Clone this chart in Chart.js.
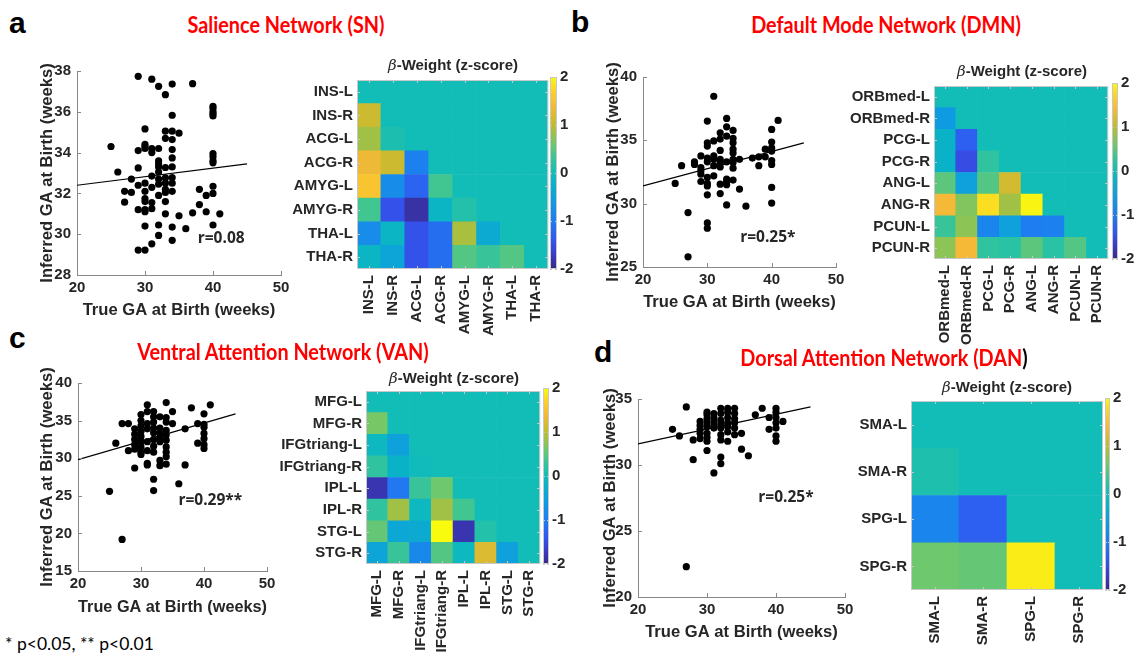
<!DOCTYPE html>
<html>
<head>
<meta charset="utf-8">
<script src="https://cdn.jsdelivr.net/npm/chart.js@4.4.0/dist/chart.umd.min.js"></script>
<style>
  body { margin: 0; background: #fff; }
  #stage { position: relative; width: 1136px; height: 653px; overflow: hidden; }
  canvas { position: absolute; }
  .txt { position: absolute; z-index: 5; white-space: nowrap; }
  .letter { font: bold 30px 'Liberation Sans', Arial, sans-serif; color: #000; line-height: 30px; }
  .title { font: bold 22px Lato, sans-serif; color: #ff0000; transform: translate(-50%, -50%) scaleX(0.9); }
  .htitle { font: bold 15px 'Liberation Sans', Arial, sans-serif; color: #262626; transform: translate(-50%, -50%); }
  .htitle i { font-family: 'DejaVu Serif', serif; font-weight: normal; font-style: italic; }
  .note { font: 17.5px Lato, sans-serif; color: #000; transform: translateY(-50%); }
</style>
</head>
<body>
<div id="stage">
  <div class="txt letter" style="left:9px;top:8px">a</div>
  <div class="txt letter" style="left:571px;top:7px">b</div>
  <div class="txt letter" style="left:9px;top:323px">c</div>
  <div class="txt letter" style="left:594px;top:337px">d</div>
  <div class="txt title" style="left:286px;top:24px">Salience Network (SN)</div>
  <div class="txt title" style="left:886px;top:24px">Default Mode Network (DMN)</div>
  <div class="txt title" style="left:283px;top:351px">Ventral Attention Network (VAN)</div>
  <div class="txt title" style="left:884px;top:357px">Dorsal Attention Network (DAN<span style="color:#000">)</span></div>
  <div class="txt htitle" style="left:453px;top:65px"><i>β</i>-Weight (z-score)</div>
  <div class="txt htitle" style="left:1022px;top:71px"><i>β</i>-Weight (z-score)</div>
  <div class="txt htitle" style="left:454px;top:378px"><i>β</i>-Weight (z-score)</div>
  <div class="txt htitle" style="left:1007px;top:387px"><i>β</i>-Weight (z-score)</div>
  <div class="txt note" style="left:5px;top:643px">* p&lt;0.05, ** p&lt;0.01</div>
</div>
<script>
// ---- scatter data (true GA vs inferred GA, weeks) ----
const gaTicks = [20, 30, 40, 50];
const fitX = [20, 45];

const snTrueGA = [29,31,32,34,37,33,40,40,40,40, 40,34,30,33,34,35,33,34,25,30, 30,30,29,31,31,32,34,34,40,40,
  40,40,32,32,32,29,33,34,26,32, 31,33,34,28,32,32,30,33,34,29, 31,40,33,33,34,27,28,30,38,32,
  39,40,30,27,30,31,33,38,29,30, 30,31,33,37,39,41,35,32,34,30, 36,40,32,31,34,29,30];
const snInferredGA = [37.74,37.6,37.25,37.36,37.38,36.84,36.27,36.16,36.0,35.9, 35.8,35.83,35.16,35.05,35.05,34.95,34.7,34.64,34.3,34.4,
  34.3,34.2,34.1,34.2,34.0,34.2,34.15,33.74,33.95,33.8, 33.6,33.5,33.6,33.45,33.3,33.25,33.27,33.3,33.05,33.05,
  32.85,32.76,32.78,32.7,32.7,32.45,32.5,32.5,32.5,32.4, 32.3,32.35,32.2,32.05,32.1,32.1,32.05,32.1,32.2,31.9,
  31.9,32.0,31.75,31.57,31.6,31.55,31.6,31.45,31.2,31.2, 31.1,31.25,31.0,31.05,31.1,31.0,30.9,30.45,30.35,30.4,
  30.27,30.45,29.94,29.53,29.7,29.22,29.22];
const snFit = [32.4, 33.45];
const snTicks = [28, 30, 32, 34, 36, 38];

const dmnTrueGA = [31,30,33,41,33,40,32,33,34,31, 30,30,32,34,34,40,34,34,32,40, 40,39,31,31,30,30,29,32,32,33,
  34,34,37,38,39,35,28,28,26,40, 40,38,31,29,29,29,32,34,31,30, 33,34,33,29,25,30,30,32,33,35,
  40,32,30,40,33,36,27,30,30,27];
const dmnInferredGA = [38.48,36.52,36.73,36.57,36.07,35.86,35.6,35.34,35.78,34.95, 34.8,34.55,35.1,35.15,34.8,34.87,34.3,34.0,34.2,34.4,
  34.15,34.3,33.77,33.5,33.6,33.3,33.77,33.5,33.25,33.3, 33.5,33.25,33.6,33.7,33.7,33.5,33.3,33.1,33.0,33.4,
  33.1,33.0,33.0,32.85,32.6,32.33,32.9,32.8,32.2,32.07, 31.94,31.86,31.7,31.75,31.6,31.6,31.4,31.54,31.5,31.15,
  31.28,30.8,30.7,30.05,29.9,29.8,29.3,28.48,28.06,25.8];
const dmnFit = [31.4, 34.8];
const dmnTicks = [25, 30, 35, 40];

const vanTrueGA = [25,26,27,27,28,28, 29,29,29,29,29,29, 30,30,30,30,30,30,30,30,30, 31,31,31,31,31,31,31,31,
  32,32,32,32,32,32,32,32,32,32, 33,33,33,33,33,33,33, 34,34,34,34,34,34,34,34,34,34,
  35,35,36,37,37,38,39,39, 40,40,40,40,40,40,40, 41];
const vanInferredGA = [25.6,32.0,34.6,19.2,34.6,31.0, 33.9,33.2,32.5,31.8,31.2,28.7, 35.8,35.0,34.3,33.6,32.9,32.2,31.5,30.8,30.5,
  37.1,36.2,34.6,33.9,32.2,31.0,29.3,29.1, 36.2,35.5,34.8,34.0,33.4,32.5,31.6,30.8,27.2,25.7,
  35.5,34.0,33.3,32.7,32.2,29.7,29.0, 37.4,35.4,34.8,33.7,33.1,32.4,31.5,30.8,30.2,29.2,
  36.2,34.6,26.6,33.9,29.1,36.7,34.6,32.0, 35.9,34.5,34.1,33.3,32.6,31.8,31.3, 37.1];
const vanFit = [29.8, 35.9];
const vanTicks = [15, 20, 25, 30, 35, 40];

const danTrueGA = [25,26,27,27,28,28, 29,29,29,29,29, 30,30,30,30,30,30,30,30,30, 31,31,31,31,31,31,
  32,32,32,32,32,32,32,32,32, 33,33,33,33,33,33,33, 34,34,34,34,34,34, 35,35,36,37,38,39,39,
  40,40,40,40,40,40,40, 41];
const danInferredGA = [32.7,32.2,34.4,22.3,31.9,30.4, 33.3,33.0,32.7,32.4,32.0, 34.0,33.8,33.5,33.2,32.9,32.4,32.1,31.8,31.1,
  33.9,33.6,33.3,33.0,32.8,29.4, 34.3,33.9,33.4,33.1,32.8,32.3,31.9,30.6,30.1, 34.3,34.0,33.6,33.2,32.9,32.5,31.8,
  34.3,33.9,33.5,33.2,32.8,32.3, 32.4,31.2,30.7,33.8,34.3,33.6,32.7, 34.3,34.0,33.6,33.2,32.8,32.2,31.8, 33.3];
const danFit = [31.6, 34.4];
const danTicks = [20, 25, 30, 35];

// ---- beta weight matrices (lower triangle, row by row; the rest is 0) ----
const zTicks = [-2, -1, 0, 1, 2];

const snRegions = ['INS-L','INS-R','ACG-L','ACG-R','AMYG-L','AMYG-R','THA-L','THA-R'];
const snWeights = [
  [],
  [1.1],
  [0.85, 0.08],
  [1.35, 1.1, -0.95],
  [1.55, -0.8, -1.25, 0.35],
  [0.35, -1.45, -1.85, -0.15, 0.15],
  [-0.8, -0.15, -1.45, -1.15, 0.9, -0.35],
  [-0.15, -0.45, -1.45, -1.15, 0.45, 0.3, 0.45]
];

const dmnRegions = ['ORBmed-L','ORBmed-R','PCG-L','PCG-R','ANG-L','ANG-R','PCUN-L','PCUN-R'];
const dmnWeights = [
  [],
  [-0.6],
  [-0.2, -1.3],
  [-0.2, -1.5, 0.25],
  [0.5, -0.5, 0.45, 1.15],
  [1.4, 0.7, 1.8, 0.85, 1.95],
  [0.3, 0.75, -0.9, -0.5, -1.0, -0.95],
  [0.75, 1.4, 0.25, 0.2, 0.5, 0.2, 0.45]
];

const vanRegions = ['MFG-L','MFG-R','IFGtriang-L','IFGtriang-R','IPL-L','IPL-R','STG-L','STG-R'];
const vanWeights = [
  [],
  [0.65],
  [-0.1, -0.5],
  [0.25, -0.2, -0.05],
  [-1.8, -1.05, 0.3, 0.6],
  [0.25, 0.85, -0.1, 0.85, 0.35],
  [0.55, -0.4, -0.35, 2.0, -1.8, 0.15],
  [-0.45, 0.3, -0.85, 0.45, -0.1, 1.2, -0.5]
];

const danRegions = ['SMA-L','SMA-R','SPG-L','SPG-R'];
const danWeights = [
  [],
  [0.1],
  [-0.9, -1.3],
  [0.6, 0.55, 1.9]
];

// ---- look ----
const FONT = "'Liberation Sans', Arial, sans-serif";
const INK = '#262626';
Chart.defaults.font.family = FONT;
Chart.defaults.font.size = 15;
Chart.defaults.font.weight = 'bold';
Chart.defaults.color = INK;

// parula-like colormap over [-2, 2]
const cmapStops = [[0,53,42,135],[0.08,60,60,200],[0.15,50,85,240],[0.25,30,125,240],[0.35,15,155,225],
  [0.45,10,178,200],[0.5,19,189,183],[0.56,45,195,160],[0.65,110,200,110],[0.75,190,188,45],
  [0.85,245,185,55],[0.93,252,210,40],[1,249,251,14]];
function parula(v) {
  const t = Math.min(1, Math.max(0, (v + 2) / 4));
  for (let i = 1; i < cmapStops.length; i++) {
    const b = cmapStops[i];
    if (t <= b[0]) {
      const a = cmapStops[i - 1], f = (t - a[0]) / (b[0] - a[0]);
      return 'rgb(' + [1, 2, 3].map(k => Math.round(a[k] + (b[k] - a[k]) * f)).join(',') + ')';
    }
  }
  return 'rgb(249,251,14)';
}

function addCanvas(x, y, w, h) {
  const c = document.createElement('canvas');
  c.width = w; c.height = h;
  c.style.left = x + 'px'; c.style.top = y + 'px';
  c.style.width = w + 'px'; c.style.height = h + 'px';
  document.getElementById('stage').appendChild(c);
  return c;
}

// box + inward tick marks, like matlab axes
const framePlugin = {
  id: 'frame',
  afterDraw(chart, args, o) {
    const {ctx, chartArea: a, scales} = chart;
    ctx.save();
    ctx.strokeStyle = o.color;
    ctx.lineWidth = 1;
    if (o.box) ctx.strokeRect(a.left + 0.5, a.top + 0.5, a.width - 1, a.height - 1);
    ctx.beginPath();
    if (!o.noX) scales.x.ticks.forEach((t, i) => {
      const p = Math.round(scales.x.getPixelForTick(i)) + 0.5;
      ctx.moveTo(p, a.bottom); ctx.lineTo(p, a.bottom - o.tick);
      if (o.box) { ctx.moveTo(p, a.top); ctx.lineTo(p, a.top + o.tick); }
    });
    scales.y.ticks.forEach((t, i) => {
      const p = Math.round(scales.y.getPixelForTick(i)) + 0.5;
      ctx.moveTo(a.left, p); ctx.lineTo(a.left + o.tick, p);
      if (o.box) { ctx.moveTo(a.right, p); ctx.lineTo(a.right - o.tick, p); }
    });
    ctx.stroke();
    ctx.restore();
  }
};

const rPlugin = {
  id: 'rlabel',
  afterDatasetsDraw(chart, args, o) {
    const {ctx, scales: {x, y}} = chart;
    ctx.save();
    ctx.font = 'bold 15.5px "Open Sans", Lato, sans-serif';
    ctx.fillStyle = INK;
    ctx.textAlign = 'center';
    ctx.textBaseline = 'middle';
    ctx.fillText(o.text, x.getPixelForValue(o.x), y.getPixelForValue(o.y));
    ctx.restore();
  }
};

function scatter(area, yTitleX, xTitleY, xs, ys, fit, yTicks, rText, rAt) {
  const L = Math.round(yTitleX - 20), T = area[1] - 20;
  const W = area[2] + 25 - L, H = Math.round(xTitleY + 10) - T;
  const padLeft = yTitleX - 10 - L;
  const cv = addCanvas(L, T, W, H);
  const tickFont = {family: FONT, size: 15, weight: 'bold'};
  const titleFont = {family: FONT, size: 16.6, weight: 'bold'};
  new Chart(cv, {
    type: 'scatter',
    data: {
      datasets: [
        {data: xs.map((x, i) => ({x: x, y: ys[i]})), backgroundColor: '#000', borderColor: '#000',
         pointRadius: 3.6, pointHoverRadius: 3.6, borderWidth: 0},
        {type: 'line', data: fitX.map((x, i) => ({x: x, y: fit[i]})), borderColor: '#000',
         borderWidth: 1.2, pointRadius: 0, fill: false}
      ]
    },
    options: {
      responsive: false, animation: false,
      layout: {padding: {left: padLeft, top: 20, right: 25, bottom: 0}},
      plugins: {
        legend: {display: false}, tooltip: {enabled: false},
        rlabel: {text: rText, x: rAt[0], y: rAt[1]},
        frame: {box: false, tick: 4, color: '#888'}
      },
      scales: {
        x: {
          type: 'linear', min: gaTicks[0], max: gaTicks[gaTicks.length - 1],
          afterBuildTicks: s => { s.ticks = gaTicks.map(v => ({value: v})); },
          grid: {display: false, drawTicks: false}, border: {color: '#888'},
          ticks: {font: tickFont, color: INK, padding: 4},
          title: {display: true, text: 'True GA at Birth (weeks)', font: titleFont, color: INK, padding: 0},
          afterFit: s => { s.height = T + H - area[3]; }
        },
        y: {
          min: yTicks[0], max: yTicks[yTicks.length - 1],
          afterBuildTicks: s => { s.ticks = yTicks.map(v => ({value: v})); },
          grid: {display: false, drawTicks: false}, border: {color: '#888'},
          ticks: {font: tickFont, color: INK, padding: 6},
          title: {display: true, text: 'Inferred GA at Birth (weeks)', font: titleFont, color: INK, padding: 0},
          afterFit: s => { s.width = area[0] - L - padLeft; }
        }
      }
    },
    plugins: [rPlugin, framePlugin]
  });
}

function heatmap(area, regions, weights, bottomLimit) {
  const n = regions.length;
  const L = area[0] - 110, T = area[1] - 10;
  const W = area[2] - L + 12, H = bottomLimit - T;
  const cv = addCanvas(L, T, W, H);
  const datasets = [];
  for (let k = 0; k < n; k++) {
    const row = n - 1 - k;   // stacked from the bottom row up
    datasets.push({
      label: regions[row],
      data: regions.map(() => 1),
      backgroundColor: regions.map((_, c) => parula(c < row ? weights[row][c] : 0)),
      borderWidth: 0, barPercentage: 1, categoryPercentage: 1
    });
  }
  new Chart(cv, {
    type: 'bar',
    data: {labels: regions, datasets: datasets},
    options: {
      responsive: false, animation: false,
      layout: {padding: {left: 0, top: 10, right: 12, bottom: 0}},
      plugins: {legend: {display: false}, tooltip: {enabled: false},
                frame: {box: true, tick: 3, color: '#c8c8c8'}},
      scales: {
        x: {
          stacked: true, grid: {display: false, drawTicks: false}, border: {display: false},
          ticks: {autoSkip: false, minRotation: 90, maxRotation: 90, padding: 6},
          afterFit: s => { s.height = T + H - area[3]; }
        },
        y: {
          stacked: true, min: 0, max: n,
          grid: {display: false, drawTicks: false}, border: {display: false},
          afterBuildTicks: s => { s.ticks = regions.map((_, i) => ({value: i + 0.5})); },
          ticks: {autoSkip: false, padding: 4, callback: v => regions[n - 1 - Math.floor(v)]},
          afterFit: s => { s.width = area[0] - L; }
        }
      }
    },
    plugins: [framePlugin]
  });
}

function colorbar(x0, x1, y0, y1) {
  const L = x0 - 4, T = y0 - 12, W = x1 - L + 30, H = y1 - T + 12;
  const cv = addCanvas(L, T, W, H);
  const grad = chart => {
    const a = chart.chartArea;
    if (!a) return parula(0);
    const g = chart.ctx.createLinearGradient(0, a.bottom, 0, a.top);
    cmapStops.forEach(s => g.addColorStop(s[0], 'rgb(' + s[1] + ',' + s[2] + ',' + s[3] + ')'));
    return g;
  };
  new Chart(cv, {
    type: 'bar',
    data: {labels: ['z'], datasets: [{
      data: [[zTicks[0], zTicks[zTicks.length - 1]]],
      backgroundColor: ctx => grad(ctx.chart),
      borderWidth: 0, barPercentage: 1, categoryPercentage: 1
    }]},
    options: {
      responsive: false, animation: false,
      layout: {padding: {left: 4, top: 12, right: 0, bottom: 12}},
      plugins: {legend: {display: false}, tooltip: {enabled: false},
                frame: {box: true, tick: 2, color: '#c8c8c8', noX: true}},
      scales: {
        x: {display: false},
        y: {
          position: 'right', min: zTicks[0], max: zTicks[zTicks.length - 1],
          afterBuildTicks: s => { s.ticks = zTicks.map(v => ({value: v})); },
          grid: {display: false, drawTicks: false}, border: {display: false},
          ticks: {padding: 3},
          afterFit: s => { s.width = W - 4 - (x1 - x0); }
        }
      }
    },
    plugins: [framePlugin]
  });
}

// panel a
scatter([77, 71, 281, 275], 47, 310, snTrueGA, snInferredGA, snFit, snTicks, 'r=0.08', [41.2, 29.8]);
heatmap([357, 77, 549, 269], snRegions, snWeights, 360);
colorbar(550, 557, 77, 269);
// panel b
scatter([643, 77, 836, 267], 613, 302, dmnTrueGA, dmnInferredGA, dmnFit, dmnTicks, 'r=0.25*', [39.4, 27.3]);
heatmap([934, 83, 1110, 259], dmnRegions, dmnWeights, 350);
colorbar(1112, 1118, 83, 259);
// panel c
scatter([78, 383, 267, 571], 47, 607, vanTrueGA, vanInferredGA, vanFit, vanTicks, 'r=0.29**', [41.0, 24.4]);
heatmap([366, 388, 542, 564], vanRegions, vanWeights, 653);
colorbar(543, 549, 388, 564);
// panel d
scatter([638, 399, 845, 597], 610, 632, danTrueGA, danInferredGA, danFit, danTicks, 'r=0.25*', [41.45, 27.5]);
heatmap([911, 398, 1103, 590], danRegions, danWeights, 653);
colorbar(1105, 1110, 398, 590);
</script>
</body>
</html>
